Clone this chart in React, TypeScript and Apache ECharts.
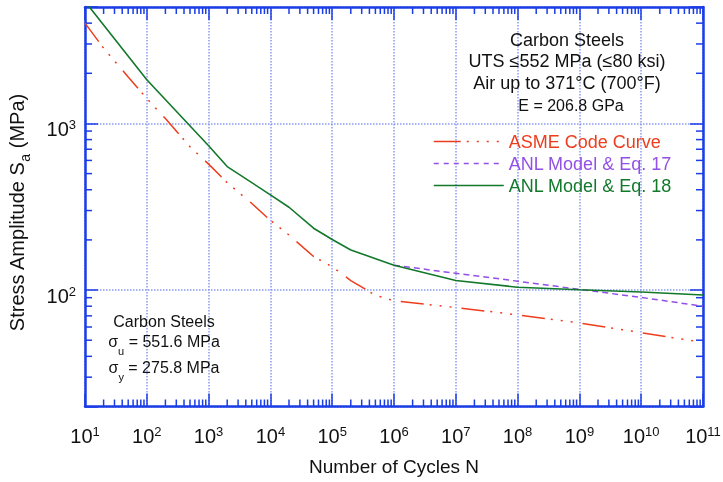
import React, { useEffect, useRef } from 'react';
import * as echarts from 'echarts';

const FONT = '"Liberation Sans", Arial, Helvetica, sans-serif';
const AXIS_BLUE = '#1b3de6';
const GRID_BLUE = '#8b9bf4';
const RED = '#ee3d1c';
const PURPLE = '#9350e6';
const GREEN = '#12782a';
const INK = '#111111';

const X_MIN = 10;
const X_MAX = 1e11;
const Y_MIN = 20;
const Y_MAX = 5000;

// ASME Code Curve (carbon steels)
const asmeN = [10, 20, 50, 100, 200, 500, 1e3, 2e3, 5e3, 1e4, 2e4, 5e4, 1e5, 2e5, 5e5, 1e6, 1e7, 1e8, 1e9, 1e10, 1e11];
const asmeS = [4000, 2830, 1900, 1410, 1070, 725, 570, 441, 331, 262, 214, 159, 138, 114, 93.1, 86.2, 78.5, 71, 63.5, 55.5, 48.5];

// ANL Model & Eq. 17
const eq17N = [1e6, 1e7, 1e8, 1e9, 1e10, 1e11];
const eq17S = [141, 126, 113, 101, 90.3, 80];

// ANL Model & Eq. 18
const eq18N = [10, 100, 1e3, 2e3, 1e4, 2e4, 5e4, 1e5, 2e5, 1e6, 1e7, 1e8, 1e9, 1e10, 1e11];
const eq18S = [5400, 1830, 735, 551, 373, 314, 235, 201, 174, 141, 114, 104, 100.4, 97.3, 93.3];

// minor tick positions
const xDecadeStarts = [10, 1e2, 1e3, 1e4, 1e5, 1e6, 1e7, 1e8, 1e9, 1e10];
const minorMultipliers = [2, 3, 4, 5, 6, 7, 8, 9];
const yMinorTicks = [30, 40, 50, 60, 70, 80, 90, 200, 300, 400, 500, 600, 700, 800, 900, 2000, 3000, 4000];

const seriesNames = ['ASME Code Curve', 'ANL Model & Eq. 17', 'ANL Model & Eq. 18'];

const zip = (a: number[], b: number[]) => a.map((v, i) => [v, b[i]]);

function powLabel(v: number): string {
  const e = Math.log10(v);
  const r = Math.round(e);
  if (Math.abs(e - r) > 1e-6) return '';
  return `{b|10}{s|${r}}`;
}

const labelRich = {
  b: { fontSize: 20, fontFamily: FONT, color: INK, lineHeight: 22 },
  s: { fontSize: 13, fontFamily: FONT, color: INK, lineHeight: 13, verticalAlign: 'top' },
};

const textEl = (x: number, y: number, text: string, size: number) => ({
  type: 'text', x, y,
  style: { text, fontSize: size, fontFamily: FONT, fill: INK, align: 'center', verticalAlign: 'middle' },
});

const sigmaEl = (x: number, y: number, sub: string, rest: string) => ({
  type: 'text', x, y,
  style: {
    text: `{a|σ}{u|${sub}}{a|${rest}}`,
    align: 'center', verticalAlign: 'middle',
    rich: {
      a: { fontSize: 16, fontFamily: FONT, fill: INK, color: INK, lineHeight: 30 },
      u: { fontSize: 11, fontFamily: FONT, fill: INK, color: INK, lineHeight: 11, verticalAlign: 'bottom' },
    },
  },
});

export default function App() {
  const ref = useRef<HTMLDivElement>(null);

  useEffect(() => {
    if (!ref.current) return;
    const chart = echarts.init(ref.current, undefined, { renderer: 'svg' });

    const axisCommon = {
      axisLine: { show: true, lineStyle: { color: AXIS_BLUE, width: 2.5 } },
      axisTick: { show: true, inside: true, length: 13, lineStyle: { color: AXIS_BLUE, width: 1.5 } },
    };

    const option: any = {
      animation: false,
      grid: { left: 85, right: 20, top: 7, bottom: 75.5, outerBoundsMode: 'none' },
      xAxis: [
        {
          type: 'log', min: X_MIN, max: X_MAX, interval: 1, position: 'bottom',
          name: 'Number of Cycles N', nameLocation: 'middle', nameGap: 50,
          nameTextStyle: { fontSize: 19, fontFamily: FONT, color: INK },
          ...axisCommon,
          axisLabel: { show: true, margin: 18, formatter: powLabel, rich: labelRich },
          splitLine: { show: true, lineStyle: { color: GRID_BLUE, width: 1.5, type: 'dotted' } },
        },
        {
          type: 'log', min: X_MIN, max: X_MAX, interval: 1, position: 'top',
          ...axisCommon,
          axisLabel: { show: false },
          splitLine: { show: false },
        },
      ],
      yAxis: [
        {
          type: 'log', min: Y_MIN, max: Y_MAX, position: 'left',
          name: '{n|Stress Amplitude S}{sub|a}{n| (MPa)}', nameLocation: 'middle', nameGap: 53,
          nameTextStyle: {
            fontSize: 20, fontFamily: FONT, color: INK, padding: [0, 12, 0, 0],
            rich: {
              n: { fontSize: 20, fontFamily: FONT, color: INK, lineHeight: 30 },
              sub: { fontSize: 14, fontFamily: FONT, color: INK, lineHeight: 14, verticalAlign: 'bottom' },
            },
          },
          ...axisCommon,
          axisLabel: { show: true, margin: 9, padding: [12, 0, 0, 0], formatter: powLabel, rich: labelRich },
          splitLine: { show: true, lineStyle: { color: GRID_BLUE, width: 1.5, type: 'dotted' } },
        },
        {
          type: 'log', min: Y_MIN, max: Y_MAX, position: 'right',
          ...axisCommon,
          axisLabel: { show: false },
          splitLine: { show: false },
        },
      ],
      legend: {
        orient: 'vertical', left: 428, top: 127.5,
        itemWidth: 70, itemHeight: 18, itemGap: 4, selectedMode: false,
        textStyle: { fontSize: 18, fontFamily: FONT },
        data: [
          { name: seriesNames[0], textStyle: { color: RED }, itemStyle: { opacity: 0 }, lineStyle: { width: 1.5, type: [27, 6, 2, 8, 2, 8, 2, 8, 2, 60] } },
          { name: seriesNames[1], textStyle: { color: PURPLE }, itemStyle: { opacity: 0 }, lineStyle: { width: 1.5, type: [5, 5] } },
          { name: seriesNames[2], textStyle: { color: GREEN }, itemStyle: { opacity: 0 }, lineStyle: { width: 1.5 } },
        ],
      },
      series: [
        {
          name: seriesNames[0], type: 'line', data: zip(asmeN, asmeS), symbol: 'none',
          lineStyle: { color: RED, width: 1.5, type: [23, 6, 2, 8, 2, 8, 2, 10] }, itemStyle: { color: RED }, z: 3,
        },
        {
          name: seriesNames[1], type: 'line', data: zip(eq17N, eq17S), symbol: 'none',
          lineStyle: { color: PURPLE, width: 1.5, type: [6, 4] }, itemStyle: { color: PURPLE }, z: 3,
        },
        {
          name: seriesNames[2], type: 'line', data: zip(eq18N, eq18S), symbol: 'none',
          lineStyle: { color: GREEN, width: 1.6 }, itemStyle: { color: GREEN }, z: 4,
        },
      ],
    };

    chart.setOption(option);

    // minor tick marks, placed through the axes' own scales
    const px = (v: number) => Number(chart.convertToPixel({ xAxisIndex: 0 }, v));
    const py = (v: number) => Number(chart.convertToPixel({ yAxisIndex: 0 }, v));
    const xl = px(X_MIN), xr = px(X_MAX), yb = py(Y_MIN), yt = py(Y_MAX);
    const ticks: any[] = [];
    const seg = (x1: number, y1: number, x2: number, y2: number) => ({
      type: 'line',
      shape: { x1, y1, x2, y2 },
      style: { stroke: AXIS_BLUE, lineWidth: 1.5 },
    });
    xDecadeStarts.forEach((d) => minorMultipliers.forEach((m) => {
      const x = px(m * d);
      ticks.push(seg(x, yb, x, yb - 7));
      ticks.push(seg(x, yt, x, yt + 7));
    }));
    yMinorTicks.forEach((v) => {
      const y = py(v);
      ticks.push(seg(xl, y, xl + 7, y));
      ticks.push(seg(xr, y, xr - 7, y));
    });

    chart.setOption({
      graphic: [
        ...ticks,
        textEl(567, 40, 'Carbon Steels', 18),
        textEl(567, 61, 'UTS ≤552 MPa (≤80 ksi)', 18),
        textEl(567, 83, 'Air up to 371°C (700°F)', 18),
        textEl(571, 105, 'E = 206.8 GPa', 16),
        textEl(164, 321, 'Carbon Steels', 16),
        sigmaEl(164, 341, 'u', ' = 551.6 MPa'),
        sigmaEl(164, 367, 'y', ' = 275.8 MPa'),
      ],
    });

    return () => chart.dispose();
  }, []);

  return <div ref={ref} style={{ position: 'fixed', left: 0, top: 0, width: 723, height: 482 }} />;
}
